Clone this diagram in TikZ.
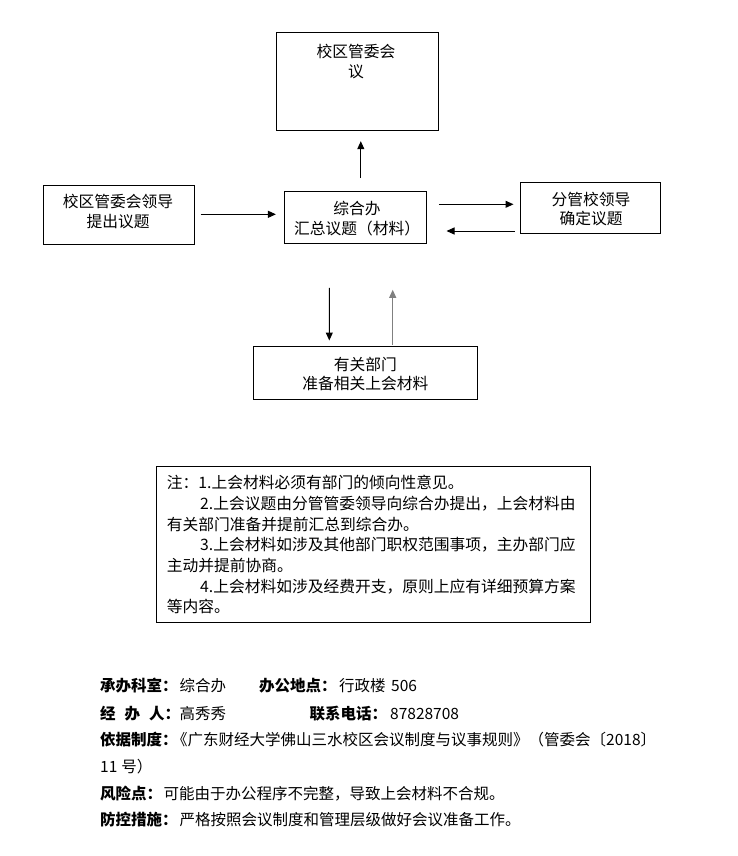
\documentclass[tikz,border=0pt]{standalone}
\usepackage{fontspec}
\setmainfont{Noto Sans CJK SC}
\usetikzlibrary{arrows.meta}
\newcommand{\fsA}{\fontsize{15.75pt}{20pt}\selectfont}
\newcommand{\fsB}{\fontsize{15.5pt}{20pt}\selectfont}
\begin{document}
\begin{tikzpicture}[x=1pt,y=-1pt,
  box/.style={draw, line width=1pt, inner sep=0pt},
  txt/.style={inner sep=0pt, anchor=base, font=\fsA},
  ntxt/.style={inner sep=0pt, anchor=base west, font=\fsA},
  btxt/.style={inner sep=0pt, anchor=base west, font=\fsB},
  blab/.style={inner sep=0pt, anchor=base west, font=\fsB\bfseries},
  arr/.style={line width=1pt, -{Triangle[length=8pt,width=7pt]}},
  garr/.style={arr, draw=gray, fill=gray},
]
\path[use as bounding box, fill=white] (0,0) rectangle (737,856);

% boxes
\node[box, minimum width=162pt, minimum height=98pt] (top) at (357,82) {};
\node[box, minimum width=151pt, minimum height=59pt] (left) at (118.9,214.8) {};
\node[box, minimum width=142pt, minimum height=51.6pt] (mid) at (355.7,217.5) {};
\node[box, minimum width=140pt, minimum height=50.6pt] (right) at (590.7,208) {};
\node[box, minimum width=224.4pt, minimum height=53pt] (bot) at (365.4,372.5) {};
\node[box, minimum width=434.7pt, minimum height=156pt] (note) at (373.35,544) {};

% box texts
\node[txt] (top1) at (356,57.7) {校区管委会};
\node[txt] (top2) at (356,77.7) {议};
\node[txt] (left1) at (118,207.7) {校区管委会领导};
\node[txt] (left2) at (118,227) {提出议题};
\node[txt] (mid1) at (357,214.3) {综合办};
\node[txt] (mid2) at (357,234.3) {汇总议题（材料）};
\node[txt] (right1) at (591,205.3) {分管校领导};
\node[txt] (right2) at (591,224.3) {确定议题};
\node[txt] (bot1) at (365.4,370.3) {有关部门};
\node[txt] (bot2) at (365.4,389.3) {准备相关上会材料};

% arrows
\draw[arr] ([xshift=5.1pt,yshift=13pt]mid.north) -- ([xshift=3.8pt,yshift=-9.7pt]top.south);
\draw[arr] ([xshift=5.8pt,yshift=0.5pt]left.east) -- ([xshift=-8.3pt,yshift=3.2pt]mid.west);
\draw[arr] ([xshift=11.6pt,yshift=13.2pt]mid.east) -- ([xshift=-6.7pt,yshift=3.7pt]right.west);
\draw[arr] ([xshift=-5.7pt,yshift=-23pt]right.west) -- ([xshift=19.3pt,yshift=-13.5pt]mid.east);
\draw[arr] ([xshift=-26.4pt,yshift=-44pt]mid.south) -- ([xshift=-36.1pt,yshift=5pt]bot.north);
\draw[garr] ([xshift=27.3pt,yshift=1pt]bot.north) -- ([xshift=37pt,yshift=-46pt]mid.south);

% notes
\node[ntxt] (n1) at (166.7,488.7) {注：1.上会材料必须有部门的倾向性意见。};
\node[ntxt] (n2) at (200,509.4) {2.上会议题由分管管委领导向综合办提出，上会材料由};
\node[ntxt] (n3) at (166.7,530) {有关部门准备并提前汇总到综合办。};
\node[ntxt] (n4) at (200,550.7) {3.上会材料如涉及其他部门职权范围事项，主办部门应};
\node[ntxt] (n5) at (166.7,571.4) {主动并提前协商。};
\node[ntxt] (n6) at (200,592) {4.上会材料如涉及经费开支，原则上应有详细预算方案};
\node[ntxt] (n7) at (166.7,612.7) {等内容。};

% bottom info
\node[blab] (l1a) at (100,691.9) {承办科室：};
\node[btxt] (l1b) at (179.3,691.9) {综合办};
\node[blab] (l1c) at (259,691.9) {办公地点：};
\node[btxt] (l1d) at (339,691.9) {行政楼};
\node[btxt] (l1e) at (391,691.9) {506};

\node[blab] (l2a) at (100,719.2) {经\hspace{9pt}办\hspace{9pt}人：};
\node[btxt] (l2b) at (179.3,719.2) {高秀秀};
\node[blab] (l2c) at (309.3,719.2) {联系电话：};
\node[btxt] (l2d) at (390,719.2) {87828708};

\node[blab] (l3a) at (100,745.9) {依据制度：};
\node[btxt] (l3b) at (172,745.9) {《广东财经大学佛山三水校区会议制度与议事规则》（管委会〔2018〕};
\node[btxt] (l4) at (100,772.6) {11\hspace{4pt}号）};

\node[blab] (l5a) at (100,799.4) {风险点：};
\node[btxt] (l5b) at (163.5,799.4) {可能由于办公程序不完整，导致上会材料不合规。};

\node[blab] (l6a) at (100,825.9) {防控措施：};
\node[btxt] (l6b) at (179.3,825.9) {严格按照会议制度和管理层级做好会议准备工作。};
\end{tikzpicture}
\end{document}
